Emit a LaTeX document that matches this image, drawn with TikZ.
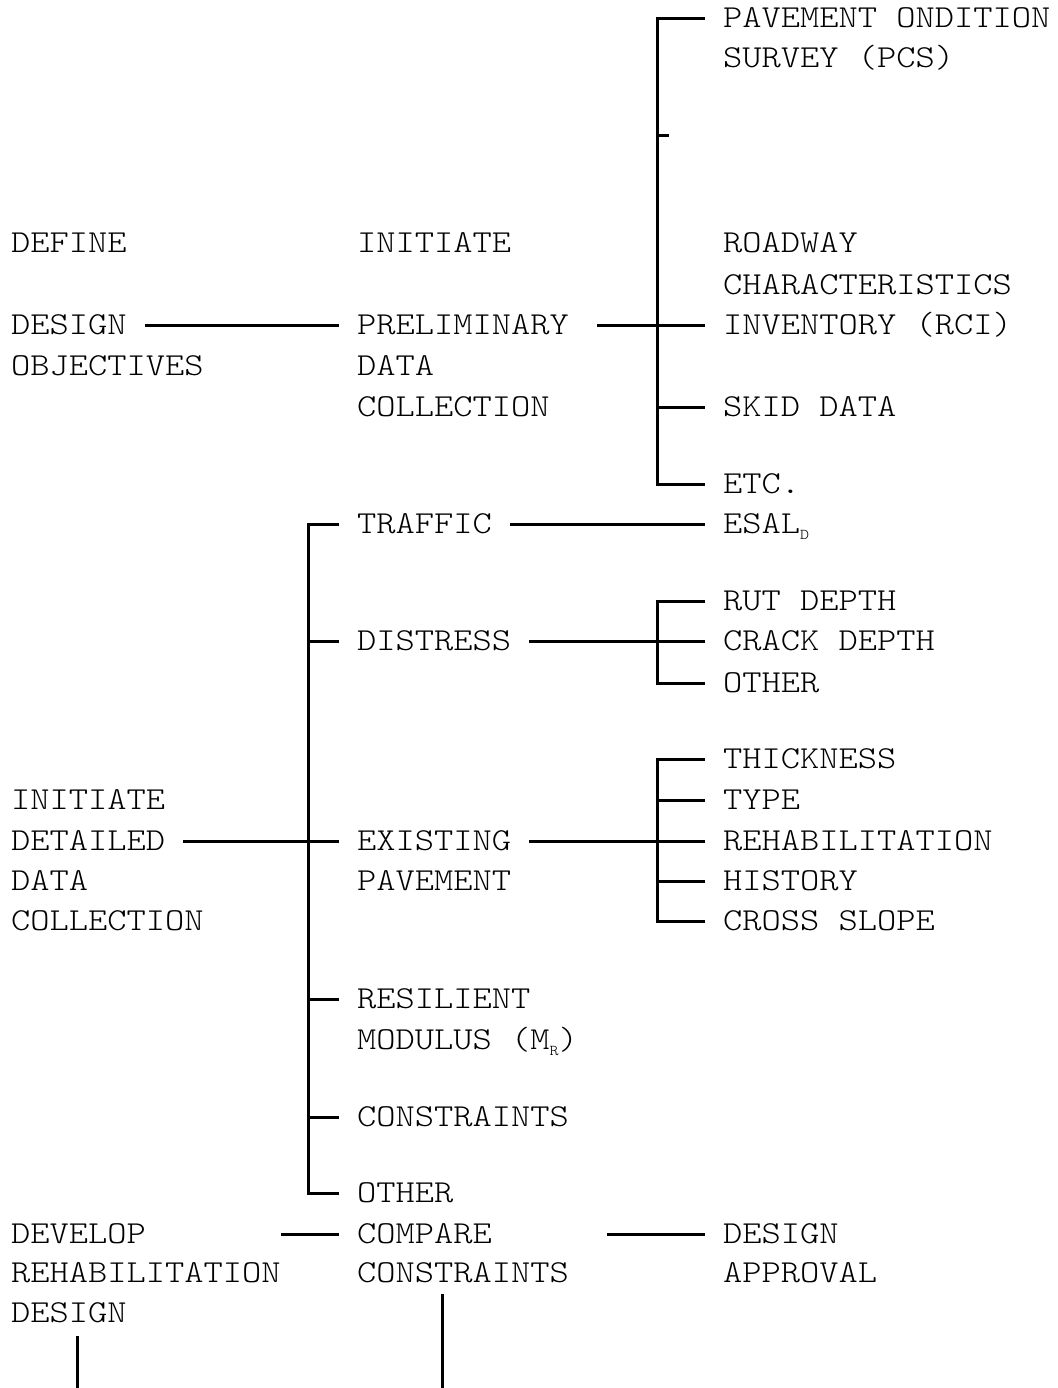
\documentclass[tikz,border=0pt]{standalone}
\usepackage{fontspec}
\usepackage{tikz}
\newfontfamily\typefont{lmmonolt10-regular.otf}[FakeStretch=1.146]
\newcommand{\lowsub}[1]{\raisebox{-3pt}{\fontsize{7.5}{7.5}\selectfont #1}}

\begin{document}
\begin{tikzpicture}[x=0.5pt,y=-0.5pt,line width=1.5pt,
    txt/.style={anchor=text,inner xsep=9pt,inner ysep=1pt,outer sep=0pt,
      text height=9pt,text depth=0pt,
      font=\typefont\fontsize{16}{20}\selectfont}]
  \useasboundingbox (0,0) rectangle (1057,1388);

  % first column
  \node[txt] (def1) at (11,252) {DEFINE};
  \node[txt] (def2) at (11,334) {DESIGN};
  \node[txt] (def3) at (11,375) {OBJECTIVES};
  \node[txt] (det1) at (11,809) {INITIATE};
  \node[txt] (det2) at (11,850) {DETAILED};
  \node[txt] (det3) at (11,890) {DATA};
  \node[txt] (det4) at (11,930) {COLLECTION};
  \node[txt] (dev1) at (11,1243) {DEVELOP};
  \node[txt] (dev2) at (11,1282) {REHABILITATION};
  \node[txt] (dev3) at (11,1322) {DESIGN};

  % second column
  \node[txt] (pre1) at (357,252) {INITIATE};
  \node[txt] (pre2) at (357,334) {PRELIMINARY};
  \node[txt] (pre3) at (357,375) {DATA};
  \node[txt] (pre4) at (357,416) {COLLECTION};
  \node[txt] (traffic) at (357,533) {TRAFFIC};
  \node[txt] (distress) at (357,650) {DISTRESS};
  \node[txt] (exist1) at (357,850) {EXISTING};
  \node[txt] (exist2) at (357,890) {PAVEMENT};
  \node[txt] (resil1) at (357,1008) {RESILIENT};
  \node[txt] (resil2) at (357,1049) {MODULUS (M\lowsub{R})};
  \node[txt] (constr) at (357,1126) {CONSTRAINTS};
  \node[txt] (other) at (357,1202) {OTHER};
  \node[txt] (cmp1) at (357,1243) {COMPARE};
  \node[txt] (cmp2) at (357,1282) {CONSTRAINTS};

  % third column
  \node[txt] (pcs1) at (723,27) {PAVEMENT ONDITION};
  \node[txt] (pcs2) at (723,67) {SURVEY (PCS)};
  \node[txt] (rci1) at (723,252) {ROADWAY};
  \node[txt] (rci2) at (723,294) {CHARACTERISTICS};
  \node[txt] (rci3) at (723,334) {INVENTORY (RCI)};
  \node[txt] (skid) at (723,416) {SKID DATA};
  \node[txt] (etc) at (723,493) {ETC.};
  \node[txt] (esal) at (723,533) {ESAL\lowsub{D}};
  \node[txt] (rut) at (723,610) {RUT DEPTH};
  \node[txt] (crack) at (723,650) {CRACK DEPTH};
  \node[txt] (othr) at (723,692) {OTHER};
  \node[txt] (thick) at (723,768) {THICKNESS};
  \node[txt] (type) at (723,809) {TYPE};
  \node[txt] (rehab) at (723,850) {REHABILITATION};
  \node[txt] (hist) at (723,890) {HISTORY};
  \node[txt] (cross) at (723,930) {CROSS SLOPE};
  \node[txt] (appr1) at (723,1243) {DESIGN};
  \node[txt] (appr2) at (723,1282) {APPROVAL};

  % junctions and free ends
  \coordinate (sp1) at (657,325);
  \coordinate (tick) at (669,135);
  \coordinate (sp2) at (308,841);
  \coordinate (sp3) at (657,641);
  \coordinate (sp4) at (657,841);
  \coordinate (cmpdown) at (442,1388);
  \coordinate (devdown) at (77,1388);

  % preliminary data collection
  \draw (def2.east) -- (pre2.west);
  \draw[shorten <=5pt] (pre2.east) -- (sp1) -- (rci3.west);
  \draw (pcs1.west) -| (sp1) |- (etc.west);
  \draw (sp1 |- tick) -- (tick);
  \draw (sp1 |- skid.west) -- (skid.west);

  % detailed data collection
  \draw (det2.east) -- (sp2) -- (exist1.west);
  \draw (traffic.west) -| (sp2) |- (other.west);
  \draw (sp2 |- distress.west) -- (distress.west);
  \draw (sp2 |- resil1.west) -- (resil1.west);
  \draw (sp2 |- constr.west) -- (constr.west);
  \draw (traffic.east) -- (esal.west);

  \draw (distress.east) -- (sp3) -- (crack.west);
  \draw (rut.west) -| (sp3) |- (othr.west);

  \draw (exist1.east) -- (sp4) -- (rehab.west);
  \draw (thick.west) -| (sp4) |- (cross.west);
  \draw (sp4 |- type.west) -- (type.west);
  \draw (sp4 |- hist.west) -- (hist.west);

  % rehabilitation design
  \draw ([xshift=-9pt]dev2.east |- cmp1.west) -- (cmp1.west);
  \draw ([xshift=10pt]cmp2.east |- appr1.west) -- (appr1.west);
  \draw[shorten <=5pt] (cmp2.south -| cmpdown) -- (cmpdown);
  \draw[shorten <=6pt] (dev3.south -| devdown) -- (devdown);
\end{tikzpicture}
\end{document}
